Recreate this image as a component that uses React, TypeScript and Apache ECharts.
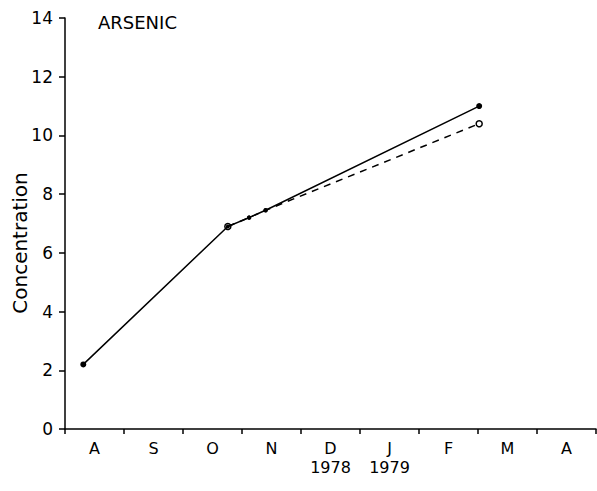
import React, { useEffect, useRef } from "react";
import * as echarts from "echarts";

const months = ["A", "S", "O", "N", "D", "J", "F", "M", "A"];
const yearLabels: Record<number, string> = { 4: "1978", 5: "1979" };
const solidX = [0.31, 2.76, 3.12, 3.4, 7.02];
const solidY = [2.2, 6.9, 7.2, 7.45, 11.0];
const dashedX = [2.76, 3.12, 3.4, 7.02];
const dashedY = [6.9, 7.2, 7.45, 10.4];
const yTicks = { min: 0, max: 14, interval: 2 };
const title = "ARSENIC";
const yName = "Concentration";

const FONT = "DejaVu Sans";

export default function App() {
  const ref = useRef<HTMLDivElement>(null);
  useEffect(() => {
    const chart = echarts.init(ref.current!, null, { renderer: "svg" });
    const pair = (xs: number[], ys: number[]) => xs.map((x, i) => [x, ys[i]]);
    const sizeFn = (n: number, mid: number, end: number) => (_v: any, p: any) =>
      p.dataIndex === 0 || p.dataIndex === n - 1 ? end : mid;
    chart.setOption({
      animation: false,
      backgroundColor: "#fff",
      grid: { left: 65, right: 1, top: 18, bottom: 62 },
      xAxis: [
        {
          type: "category",
          data: months,
          boundaryGap: true,
          axisLine: { lineStyle: { color: "#000", width: 1.5 } },
          axisTick: { show: true, length: 5, lineStyle: { color: "#000", width: 1.5 } },
          axisLabel: {
            color: "#000",
            fontFamily: FONT,
            fontSize: 16,
            margin: 10,
            lineHeight: 19,
            interval: 0,
            formatter: (v: string, i: number) => (yearLabels[i] ? v + "\n" + yearLabels[i] : v),
          },
          splitLine: { show: false },
        },
        { type: "value", min: 0, max: 9, show: false },
      ],
      yAxis: {
        type: "value",
        min: yTicks.min,
        max: yTicks.max,
        interval: yTicks.interval,
        axisLine: { show: true, lineStyle: { color: "#000", width: 1.5 } },
        axisTick: { show: true, length: 6, lineStyle: { color: "#000", width: 1.5 } },
        axisLabel: { color: "#000", fontFamily: FONT, fontSize: 17, margin: 12 },
        splitLine: { show: false },
      },
      graphic: [
        {
          type: "text",
          left: 98,
          top: 13,
          style: { text: title, fontFamily: FONT, fontSize: 18, fill: "#000" },
        },
        {
          type: "text",
          x: 20,
          y: 243,
          rotation: Math.PI / 2,
          style: {
            text: yName,
            fontFamily: FONT,
            fontSize: 20,
            fill: "#000",
            align: "center",
            verticalAlign: "middle",
          },
        },
      ],
      series: [
        {
          type: "line",
          xAxisIndex: 1,
          data: pair(dashedX, dashedY),
          symbol: "circle",
          symbolSize: sizeFn(dashedX.length, 3, 6),
          lineStyle: { color: "#000", width: 1.5, type: [7, 6] },
          itemStyle: { color: "#fff", borderColor: "#000", borderWidth: 1.5 },
          z: 2,
        },
        {
          type: "line",
          xAxisIndex: 1,
          data: pair(solidX, solidY),
          symbol: "circle",
          symbolSize: (_v: any, p: any) =>
            p.dataIndex === 0 || p.dataIndex === solidX.length - 1 ? 6 : 4,
          lineStyle: { color: "#000", width: 1.5 },
          itemStyle: { color: "#000" },
          z: 3,
        },
      ],
    });
    return () => chart.dispose();
  }, []);
  return <div ref={ref} style={{ width: 597, height: 491, position: "absolute", left: 0, top: 0 }} />;
}
